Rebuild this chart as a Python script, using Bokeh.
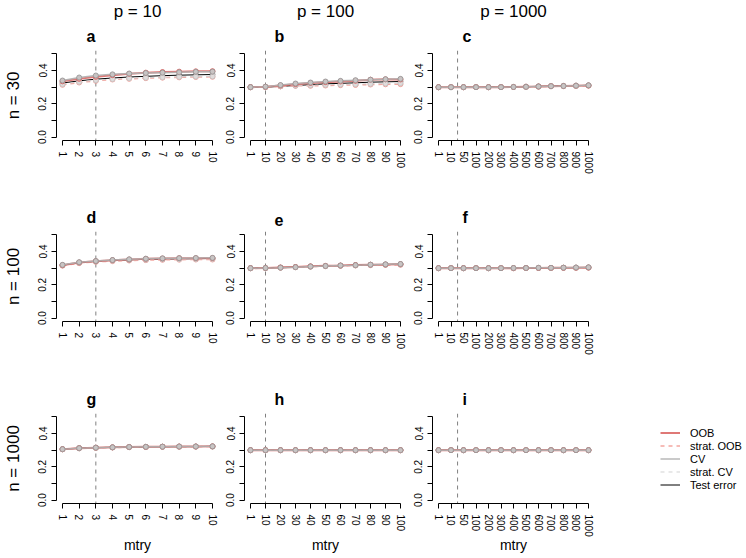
import numpy as np
from bokeh.plotting import figure
from bokeh.layouts import column, row
from bokeh.models import FixedTicker, Span, Title, Legend, LegendItem, PrintfTickFormatter
from bokeh.embed import file_html
from bokeh.resources import INLINE

FONT = "Liberation Sans"

# ---------------- data ----------------
p_values = [10, 100, 1000]
n_values = [30, 100, 1000]
letters = ["a", "b", "c", "d", "e", "f", "g", "h", "i"]

mtry_p10 = [1, 2, 3, 4, 5, 6, 7, 8, 9, 10]
mtry_p100 = [1, 10, 20, 30, 40, 50, 60, 70, 80, 90, 100]
mtry_p1000 = [1, 10, 50, 100, 200, 300, 400, 500, 600, 700, 800, 900, 1000]
default_mtry = [3, 10, 31]

# n = 30
a_oob = [0.335, 0.350, 0.362, 0.372, 0.380, 0.387, 0.391, 0.393, 0.395, 0.396]
a_soob = [0.314, 0.328, 0.338, 0.346, 0.350, 0.354, 0.357, 0.359, 0.361, 0.362]
a_cv = [0.340, 0.358, 0.370, 0.377, 0.382, 0.385, 0.387, 0.389, 0.392, 0.393]
a_scv = [0.318, 0.332, 0.342, 0.349, 0.354, 0.357, 0.360, 0.362, 0.364, 0.365]
a_test = [0.325, 0.338, 0.348, 0.355, 0.361, 0.365, 0.369, 0.372, 0.374, 0.376]

b_oob = [0.300, 0.302, 0.310, 0.318, 0.325, 0.330, 0.334, 0.338, 0.345, 0.347, 0.346]
b_soob = [0.300, 0.300, 0.305, 0.308, 0.308, 0.310, 0.312, 0.313, 0.316, 0.317, 0.318]
b_cv = [0.300, 0.303, 0.313, 0.322, 0.328, 0.334, 0.338, 0.342, 0.345, 0.348, 0.350]
b_scv = [0.300, 0.301, 0.307, 0.310, 0.312, 0.314, 0.316, 0.318, 0.320, 0.322, 0.324]
b_test = [0.300, 0.300, 0.305, 0.310, 0.315, 0.320, 0.323, 0.326, 0.330, 0.332, 0.334]

c_oob = [0.300, 0.300, 0.300, 0.300, 0.300, 0.300, 0.301, 0.303, 0.304, 0.306, 0.307, 0.309, 0.310]
c_soob = [0.300, 0.300, 0.300, 0.300, 0.300, 0.300, 0.301, 0.302, 0.303, 0.305, 0.306, 0.307, 0.309]
c_cv = [0.300, 0.300, 0.300, 0.300, 0.300, 0.300, 0.301, 0.302, 0.304, 0.306, 0.307, 0.309, 0.311]
c_scv = [0.300, 0.300, 0.300, 0.300, 0.300, 0.300, 0.301, 0.302, 0.303, 0.305, 0.306, 0.308, 0.310]
c_test = [0.299, 0.299, 0.300, 0.300, 0.300, 0.301, 0.302, 0.303, 0.305, 0.306, 0.308, 0.309, 0.311]

# n = 100
d_oob = [0.318, 0.334, 0.342, 0.348, 0.352, 0.356, 0.358, 0.360, 0.360, 0.361]
d_soob = [0.315, 0.330, 0.338, 0.342, 0.346, 0.348, 0.350, 0.351, 0.352, 0.352]
d_cv = [0.320, 0.336, 0.343, 0.349, 0.353, 0.357, 0.359, 0.360, 0.361, 0.362]
d_scv = [0.317, 0.332, 0.340, 0.345, 0.349, 0.351, 0.353, 0.354, 0.355, 0.356]
d_test = [0.318, 0.333, 0.341, 0.347, 0.350, 0.353, 0.355, 0.356, 0.357, 0.358]

e_oob = [0.300, 0.301, 0.304, 0.307, 0.311, 0.314, 0.316, 0.319, 0.321, 0.322, 0.324]
e_soob = [0.300, 0.300, 0.303, 0.306, 0.309, 0.312, 0.314, 0.316, 0.318, 0.319, 0.320]
e_cv = [0.300, 0.301, 0.303, 0.306, 0.310, 0.313, 0.316, 0.318, 0.321, 0.323, 0.325]
e_scv = [0.300, 0.300, 0.303, 0.306, 0.309, 0.312, 0.315, 0.317, 0.319, 0.321, 0.322]
e_test = [0.300, 0.301, 0.304, 0.307, 0.310, 0.313, 0.315, 0.318, 0.320, 0.322, 0.324]

f_oob = [0.300, 0.300, 0.300, 0.300, 0.300, 0.300, 0.300, 0.301, 0.301, 0.302, 0.302, 0.303, 0.304]
f_soob = [0.300, 0.300, 0.300, 0.300, 0.300, 0.300, 0.300, 0.300, 0.301, 0.301, 0.302, 0.302, 0.303]
f_cv = [0.300, 0.300, 0.300, 0.300, 0.300, 0.300, 0.301, 0.301, 0.302, 0.302, 0.303, 0.304, 0.305]
f_scv = [0.300, 0.300, 0.300, 0.300, 0.300, 0.300, 0.300, 0.301, 0.301, 0.302, 0.302, 0.303, 0.304]
f_test = [0.300, 0.300, 0.300, 0.300, 0.300, 0.300, 0.301, 0.301, 0.302, 0.302, 0.303, 0.303, 0.304]

# n = 1000
g_oob = [0.306, 0.312, 0.315, 0.317, 0.319, 0.320, 0.321, 0.322, 0.322, 0.323]
g_soob = [0.305, 0.311, 0.314, 0.316, 0.318, 0.319, 0.320, 0.321, 0.321, 0.322]
g_cv = [0.306, 0.312, 0.315, 0.317, 0.319, 0.320, 0.321, 0.322, 0.322, 0.323]
g_scv = [0.305, 0.311, 0.314, 0.316, 0.318, 0.320, 0.320, 0.321, 0.322, 0.322]
g_test = [0.306, 0.312, 0.315, 0.317, 0.318, 0.320, 0.321, 0.321, 0.322, 0.322]

h_oob = [0.300, 0.300, 0.300, 0.300, 0.300, 0.300, 0.300, 0.300, 0.300, 0.300, 0.300]
h_soob = [0.300, 0.300, 0.300, 0.300, 0.300, 0.300, 0.300, 0.300, 0.300, 0.300, 0.300]
h_cv = [0.300, 0.300, 0.300, 0.300, 0.300, 0.300, 0.300, 0.300, 0.300, 0.300, 0.300]
h_scv = [0.300, 0.300, 0.300, 0.300, 0.300, 0.300, 0.300, 0.300, 0.300, 0.300, 0.300]
h_test = [0.300, 0.300, 0.300, 0.300, 0.300, 0.300, 0.300, 0.300, 0.300, 0.300, 0.300]

i_oob = [0.300, 0.300, 0.300, 0.300, 0.300, 0.300, 0.300, 0.300, 0.300, 0.300, 0.300, 0.300, 0.300]
i_soob = [0.300, 0.300, 0.300, 0.300, 0.300, 0.300, 0.300, 0.300, 0.300, 0.300, 0.300, 0.300, 0.300]
i_cv = [0.300, 0.300, 0.300, 0.300, 0.300, 0.300, 0.300, 0.300, 0.300, 0.300, 0.300, 0.300, 0.300]
i_scv = [0.300, 0.300, 0.300, 0.300, 0.300, 0.300, 0.300, 0.300, 0.300, 0.300, 0.300, 0.300, 0.300]
i_test = [0.300, 0.300, 0.300, 0.300, 0.300, 0.300, 0.300, 0.300, 0.300, 0.300, 0.300, 0.300, 0.300]

series_names = ["OOB", "strat. OOB", "CV", "strat. CV", "Test error"]
panel_data = {
    "a": [a_oob, a_soob, a_cv, a_scv, a_test],
    "b": [b_oob, b_soob, b_cv, b_scv, b_test],
    "c": [c_oob, c_soob, c_cv, c_scv, c_test],
    "d": [d_oob, d_soob, d_cv, d_scv, d_test],
    "e": [e_oob, e_soob, e_cv, e_scv, e_test],
    "f": [f_oob, f_soob, f_cv, f_scv, f_test],
    "g": [g_oob, g_soob, g_cv, g_scv, g_test],
    "h": [h_oob, h_soob, h_cv, h_scv, h_test],
    "i": [i_oob, i_soob, i_cv, i_scv, i_test],
}
mtry_grids = [mtry_p10, mtry_p100, mtry_p1000]

# ---------------- styles ----------------
styles = {
    "OOB": dict(color="#D9605E", width=2, dash="solid", alpha=0.85,
                pt_line="#D9605E", pt_fill="#E9A3A1"),
    "strat. OOB": dict(color="#F2A19B", width=1.5, dash="4 4", alpha=0.95,
                       pt_line="#EE9A94", pt_fill="#F6C6C2"),
    "CV": dict(color="#B0B0B0", width=1.5, dash="solid", alpha=0.9,
               pt_line="#989898", pt_fill="#C8C8C8"),
    "strat. CV": dict(color="#D0D0D0", width=1, dash="4 4", alpha=0.95,
                      pt_line="#C4C4C4", pt_fill="#DEDEDE"),
    "Test error": dict(color="#000000", width=1, dash="solid", alpha=1.0,
                       pt_line="#555555", pt_fill=None),
}
draw_order = ["Test error", "strat. OOB", "strat. CV", "OOB", "CV"]

FRAME_W, FRAME_H = 162, 90
ROW_TOP = [50, 49, 49]
ROW_BOTTOM = [42, 43, 54]
LEFT = [56, 26, 26]
LEGEND_W = 150
LETTER_STANDOFF = 12
LETTER_OFFSET = 30
mtry_label_standoff = [8, 3, -3]


def style_title(t, size, bold):
    t.text_font = FONT
    t.text_font_size = size
    t.text_font_style = "bold" if bold else "normal"
    t.text_color = "black"


def make_panel(ri, ci):
    letter = letters[ri * 3 + ci]
    grid = mtry_grids[ci]
    n = len(grid)
    pos = list(range(1, n + 1))
    pad = 0.04 * (n - 1)
    first_title = f"p = {p_values[ci]}" if ri == 0 else letter
    p = figure(frame_width=FRAME_W, frame_height=FRAME_H,
               x_range=(1 - pad, n + pad), y_range=(-0.02, 0.52),
               min_border_left=LEFT[ci], min_border_right=0,
               min_border_top=ROW_TOP[ri], min_border_bottom=ROW_BOTTOM[ri],
               output_backend="svg", toolbar_location=None, title=first_title)
    p.outline_line_color = None
    p.grid.visible = False
    p.background_fill_color = "white"
    p.border_fill_color = "white"

    if ri == 0:
        p.title.align = "center"
        p.title.standoff = -3
        style_title(p.title, "17px", False)
        t = Title(text=letter, align="left", offset=LETTER_OFFSET, standoff=LETTER_STANDOFF)
        style_title(t, "16px", True)
        p.add_layout(t, "above")
    else:
        p.title.align = "left"
        p.title.offset = LETTER_OFFSET
        p.title.standoff = LETTER_STANDOFF
        style_title(p.title, "16px", True)

    # x axis
    xa = p.xaxis[0]
    xa.ticker = FixedTicker(ticks=pos)
    xa.major_label_overrides = {k: str(v) for k, v in zip(pos, grid)}
    xa.bounds = (1, n)
    xa.major_label_orientation = "vertical"
    xa.major_label_text_font = FONT
    xa.major_label_text_font_size = "10px"
    xa.major_label_text_color = "black"
    xa.major_label_standoff = 6
    xa.major_tick_out = 5
    xa.major_tick_in = 0
    xa.minor_tick_out = 0
    xa.axis_line_color = "black"
    xa.major_tick_line_color = "black"
    if ri == 2:
        xa.axis_label = "mtry"
        xa.axis_label_text_font = FONT
        xa.axis_label_text_font_size = "14px"
        xa.axis_label_text_font_style = "normal"
        xa.axis_label_text_color = "black"
        xa.axis_label_standoff = mtry_label_standoff[ci]

    # y axis
    ya = p.yaxis[0]
    ya.ticker = FixedTicker(ticks=[0.0, 0.2, 0.4], minor_ticks=[0.1, 0.3, 0.5])
    ya.formatter = PrintfTickFormatter(format="%.1f")
    ya.bounds = (0, 0.5)
    ya.major_label_orientation = "vertical"
    ya.major_label_text_font = FONT
    ya.major_label_text_font_size = "10px"
    ya.major_label_text_color = "black"
    ya.major_label_standoff = 5
    ya.major_tick_out = 5
    ya.major_tick_in = 0
    ya.minor_tick_out = 5
    ya.minor_tick_in = 0
    ya.axis_line_color = "black"
    ya.major_tick_line_color = "black"
    ya.minor_tick_line_color = "black"
    if ci == 0:
        ya.axis_label = f"n = {n_values[ri]}"
        ya.axis_label_text_font = FONT
        ya.axis_label_text_font_size = "17px"
        ya.axis_label_text_font_style = "normal"
        ya.axis_label_text_color = "black"
        ya.axis_label_standoff = 13

    # default mtry line
    vline_pos = float(np.interp(default_mtry[ci], grid, pos))
    p.add_layout(Span(location=vline_pos, dimension="height", line_color="#808080",
                      line_dash="4 4", line_width=1, level="underlay"))

    vals = dict(zip(series_names, panel_data[letter]))
    for name in draw_order:
        st = styles[name]
        p.line(pos, vals[name], line_color=st["color"], line_width=st["width"],
               line_dash=st["dash"], line_alpha=st["alpha"])
        if st["pt_fill"] is None:
            p.scatter(pos, vals[name], marker="circle", size=5, line_color=st["pt_line"],
                      line_alpha=0.6, fill_color=None)
        else:
            p.scatter(pos, vals[name], marker="circle", size=5, line_color=st["pt_line"],
                      line_alpha=0.9, fill_color=st["pt_fill"], fill_alpha=0.9)
    return p


def make_legend_fig():
    # legend-only panel: carries panel i's series out of view so the legend keys draw
    lf = figure(frame_width=LEGEND_W, frame_height=FRAME_H,
                x_range=(-20, -19), y_range=(0, 1),
                min_border_left=0, min_border_right=0,
                min_border_top=ROW_TOP[2], min_border_bottom=ROW_BOTTOM[2],
                x_axis_type=None, y_axis_type=None,
                output_backend="svg", toolbar_location=None)
    lf.outline_line_color = None
    lf.grid.visible = False
    pos = list(range(1, len(mtry_p1000) + 1))
    vals = dict(zip(series_names, panel_data["i"]))
    items = []
    for nm in series_names:
        st = styles[nm]
        r = lf.line(x=pos, y=vals[nm], line_color=st["color"], line_width=st["width"],
                    line_dash=st["dash"], line_alpha=st["alpha"])
        items.append(LegendItem(label=nm, renderers=[r]))
    leg = Legend(items=items, location=(66, 12), orientation="vertical",
                 label_text_font=FONT, label_text_font_size="11px",
                 label_text_color="black", glyph_width=20, glyph_height=13,
                 label_height=13, spacing=0, padding=0, margin=0,
                 label_standoff=10, border_line_color=None,
                 background_fill_alpha=0)
    lf.add_layout(leg, "center")
    return lf


rows = []
for ri in range(3):
    figs = [make_panel(ri, ci) for ci in range(3)]
    if ri == 2:
        figs.append(make_legend_fig())
    rows.append(row(*figs))
layout = column(*rows)

open("out.html", "w").write(file_html(layout, INLINE))
